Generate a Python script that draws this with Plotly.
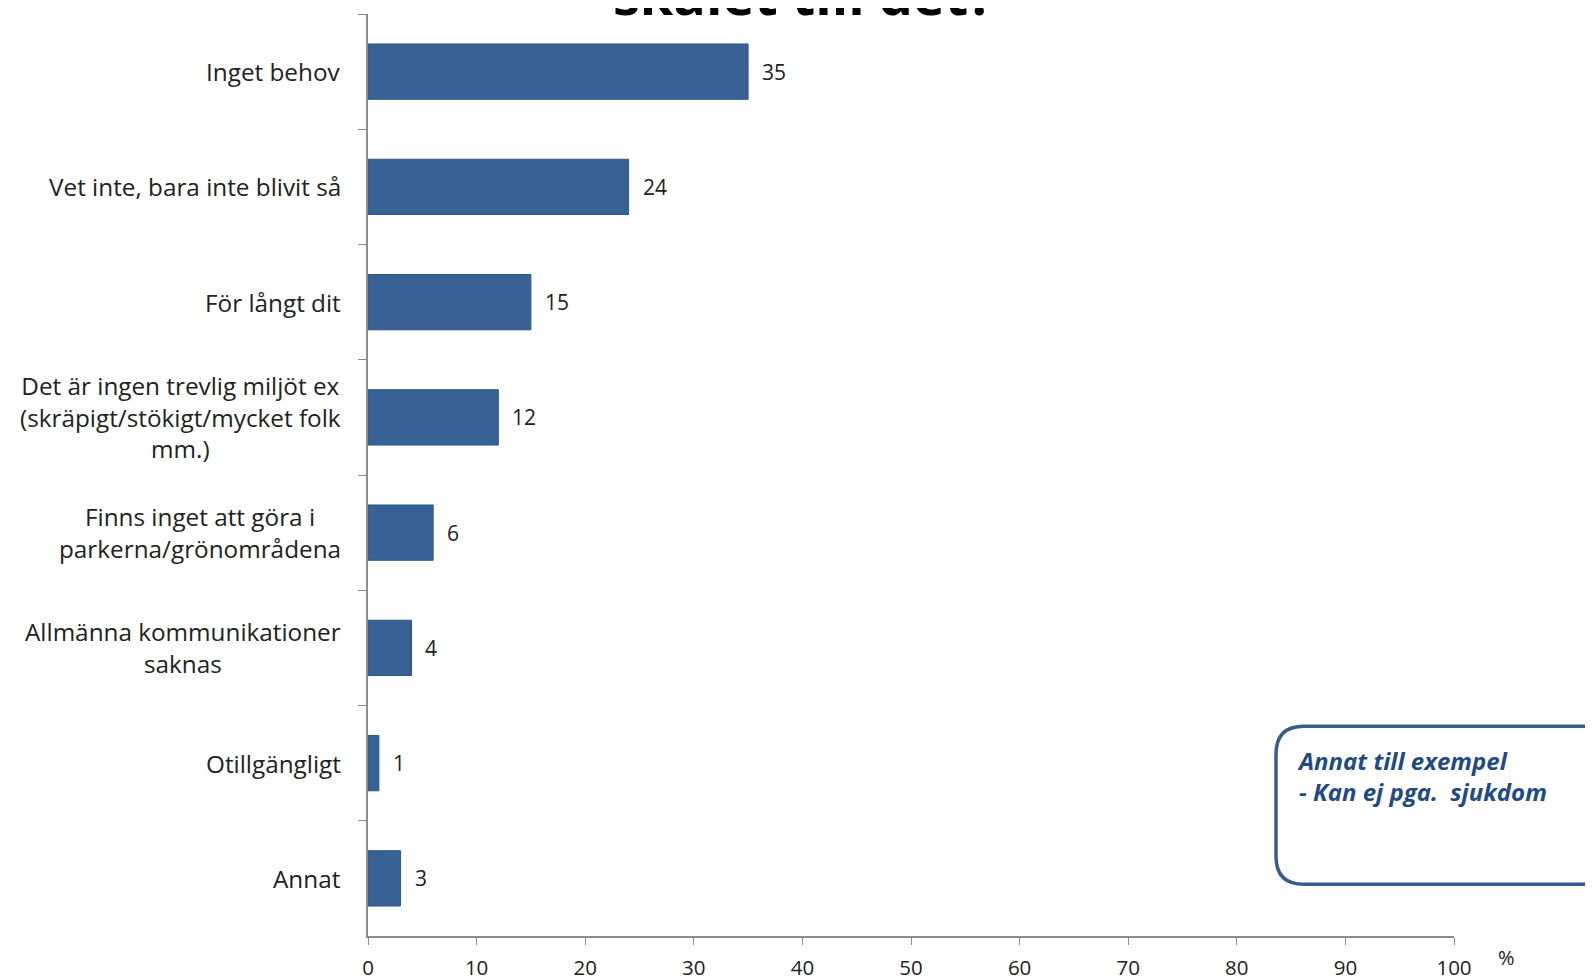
import plotly.graph_objects as go

categories = [
    "Inget behov",
    "Vet inte, bara inte blivit så",
    "För långt dit",
    "Det är ingen trevlig miljöt ex<br>(skräpigt/stökigt/mycket folk<br>mm.)",
    "Finns inget att göra i<br>parkerna/grönområdena",
    "Allmänna kommunikationer<br>saknas",
    "Otillgängligt",
    "Annat",
]
values = [35, 24, 15, 12, 6, 4, 1, 3]
x_ticks = [0, 10, 20, 30, 40, 50, 60, 70, 80, 90, 100]
title_text = "skälet till det?"
note_lines = ["Annat till exempel", "- Kan ej pga.  sjukdom"]

W, H = 1593, 979
L, R, T, B = 360, 1446, 6, 934
FONT = "Open Sans"
BAR = "#386195"

fig = go.Figure()
fig.add_trace(go.Bar(
    x=values, y=categories, orientation="h",
    marker=dict(color=BAR, line=dict(color="#2f5683", width=1)),
    width=0.48, hoverinfo="x+y",
))

ann = []
for c, v in zip(categories, values):
    ann.append(dict(x=v, y=c, xref="x", yref="y", text=str(v), showarrow=False,
                    xanchor="left", yanchor="middle", xshift=12,
                    font=dict(family=FONT, size=21, color="#222222")))
    ann.append(dict(x=0, y=c, xref="paper", yref="y", text=c, showarrow=False,
                    xanchor="right", yanchor="middle", xshift=-25, align="center",
                    font=dict(family=FONT, size=24.3, color="#222222")))

def px2paper(px, py):
    return (px - L) / (R - L), (B - py) / (B - T)

# title (cut off at the top edge, as in the source)
tx, ty = px2paper(795, 25)
ann.append(dict(x=tx, y=ty, xref="paper", yref="paper", text="<b>" + title_text + "</b>",
                showarrow=False, xanchor="center", yanchor="bottom",
                font=dict(family=FONT, size=54, color="#000000")))

# % unit label
ux, uy = px2paper(1498, 956)
ann.append(dict(x=ux, y=uy, xref="paper", yref="paper", text="%", showarrow=False,
                xanchor="center", yanchor="middle",
                font=dict(family=FONT, size=20, color="#222222")))

# note box text
nx, ny = px2paper(1287, 755)
ann.append(dict(x=nx, y=ny, xref="paper", yref="paper",
                text="<br>".join("<b><i>" + s + "</i></b>" for s in note_lines),
                showarrow=False, xanchor="left", yanchor="top", yshift=16, align="left",
                font=dict(family=FONT, size=24, color="#1f4a85")))

# rounded rectangle note box
x0, y0, x1, y1, r = 1268, 723, 1625, 882, 28
def P(a, b):
    X, Y = px2paper(a, b)
    return f"{X:.5f},{Y:.5f}"
path = (f"M {P(x0 + r, y0)} L {P(x1 - r, y0)} Q {P(x1, y0)} {P(x1, y0 + r)} "
        f"L {P(x1, y1 - r)} Q {P(x1, y1)} {P(x1 - r, y1)} "
        f"L {P(x0 + r, y1)} Q {P(x0, y1)} {P(x0, y1 - r)} "
        f"L {P(x0, y0 + r)} Q {P(x0, y0)} {P(x0 + r, y0)} Z")

fig.update_layout(
    width=W, height=H,
    margin=dict(l=L, r=W - R, t=T, b=H - B),
    paper_bgcolor="white", plot_bgcolor="white",
    showlegend=False,
    annotations=ann,
    shapes=[dict(type="path", path=path, xref="paper", yref="paper",
                 line=dict(color="#385d8a", width=3.5), fillcolor="rgba(0,0,0,0)")],
    xaxis=dict(range=[0, 100], tickvals=x_ticks, ticks="outside", ticklen=7,
               tickcolor="#8c8c8c", showline=True, linecolor="#8c8c8c", linewidth=1.5,
               showgrid=False, zeroline=False, ticklabelstandoff=6,
               tickfont=dict(family=FONT, size=20.5, color="#222222"), fixedrange=True),
    yaxis=dict(autorange="reversed", showticklabels=False, ticks="outside", ticklen=8,
               tickson="boundaries", tickcolor="#8c8c8c", showline=True,
               linecolor="#8c8c8c", linewidth=1.5, showgrid=False, zeroline=False),
)

fig.write_html("out.html")
